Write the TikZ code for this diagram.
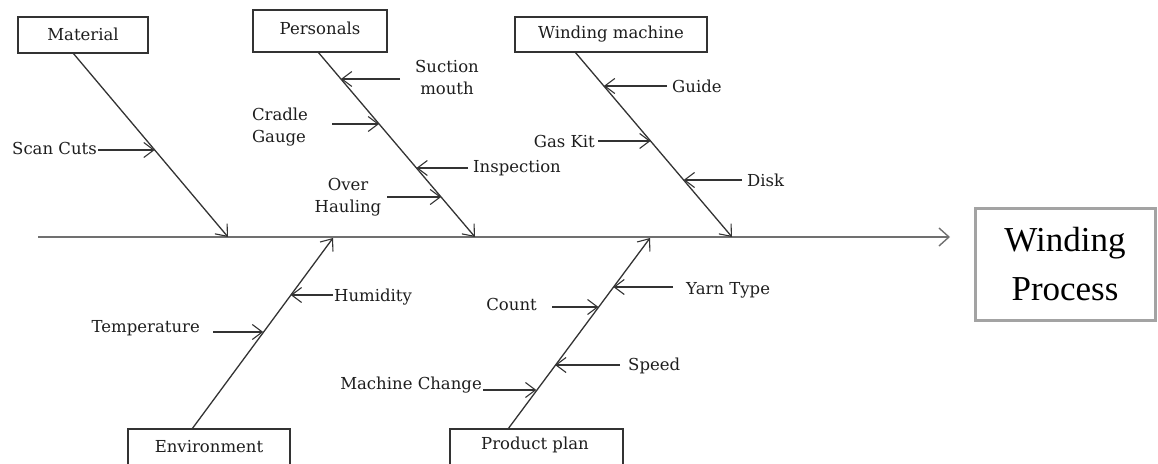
\documentclass[tikz,border=0pt]{standalone}
\usepackage{fontspec}
\setmainfont{DejaVu Serif}
\newfontfamily\bigfont{Liberation Serif}
\usetikzlibrary{arrows.meta,calc}
\definecolor{ink}{HTML}{333333}
\definecolor{txt}{HTML}{1E1E1E}
\definecolor{spinegray}{HTML}{707070}
\definecolor{framegray}{HTML}{A3A3A3}
\tikzset{
  lbl/.style={font=\fontsize{16.5}{22}\selectfont, text=txt, inner sep=0pt},
  boxnode/.style={draw=ink, line width=1.3pt, fill=white, inner sep=0pt},
  bone/.style={draw=ink, line width=1.3pt, -{Straight Barb[length=10pt,width=16pt,line width=1.1pt]}},
  subarrow/.style={draw=ink, line width=1.2pt, -{Straight Barb[length=10pt,width=15pt,line width=1.1pt]}},
  spine/.style={draw=spinegray, line width=2.2pt, -{Straight Barb[length=10pt,width=18pt,line width=1.4pt]}},
  resultbox/.style={draw=framegray, line width=3pt, fill=white, inner sep=0pt, align=center,
    font=\bigfont\fontsize{35}{49}\selectfont, text=black}
}
\begin{document}
\begin{tikzpicture}[x=1pt,y=-1pt]
\useasboundingbox (0,0) rectangle (1158,463);
\clip (0,0) rectangle (1158,463);

% ---- boxes
\node[boxnode, minimum width=130pt, minimum height=36pt] (mat) at (83,35) {};
\node[lbl] (matT) at (83,34) {Material};
\node[boxnode, minimum width=134pt, minimum height=42pt] (per) at (320,31) {};
\node[lbl] (perT) at (320,28) {Personals};
\node[boxnode, minimum width=192pt, minimum height=35pt] (wm) at (611,34.5) {};
\node[lbl] (wmT) at (611,34) {Winding machine};
\node[boxnode, minimum width=162pt, minimum height=60pt] (env) at (209,459) {};
\node[lbl] (envT) at (209,447) {Environment};
\node[boxnode, minimum width=173pt, minimum height=60pt] (pp) at (536.5,459) {};
\node[lbl] (ppT) at (535,445) {Product plan};
\node[resultbox, minimum width=180pt, minimum height=112pt] (res) at (1065,264) {Winding\\Process};

% ---- spine
\coordinate (sp0) at (38,237);
\coordinate (sp1) at (950,237);
\draw[spine] (sp0) -- (sp1);

% ---- bone end points
\coordinate (matA) at (73,53);   \coordinate (matB) at (228,237);
\coordinate (perA) at (318,52);  \coordinate (perB) at (475,237);
\coordinate (wmA)  at (575,52);  \coordinate (wmB)  at (732,237);
\coordinate (envA) at (192,429); \coordinate (envB) at (333,238);
\coordinate (ppA)  at (508,429); \coordinate (ppB)  at (650,238);

\draw[bone] (matA) -- (matB);
\draw[bone] (perA) -- (perB);
\draw[bone] (wmA) -- (wmB);
\draw[bone] (envA) -- (envB);
\draw[bone] (ppA) -- (ppB);

% ---- tips on bones
\coordinate (tScan) at ($(matA)!0.527!(matB)$);
\coordinate (tSuc)  at ($(perA)!0.146!(perB)$);
\coordinate (tCra)  at ($(perA)!0.389!(perB)$);
\coordinate (tIns)  at ($(perA)!0.627!(perB)$);
\coordinate (tOve)  at ($(perA)!0.784!(perB)$);
\coordinate (tGui)  at ($(wmA)!0.184!(wmB)$);
\coordinate (tGas)  at ($(wmA)!0.481!(wmB)$);
\coordinate (tDis)  at ($(wmA)!0.692!(wmB)$);
\coordinate (tHum)  at ($(envB)!0.30!(envA)$);
\coordinate (tTem)  at ($(envB)!0.495!(envA)$);
\coordinate (tYar)  at ($(ppB)!0.258!(ppA)$);
\coordinate (tCou)  at ($(ppB)!0.363!(ppA)$);
\coordinate (tSpe)  at ($(ppB)!0.668!(ppA)$);
\coordinate (tMac)  at ($(ppB)!0.80!(ppA)$);

% ---- labels
\node[lbl, anchor=east] (lScan) at (97,148) {Scan Cuts};
\node[lbl, align=center] (lSuc) at (447,77) {Suction\\mouth};
\node[lbl, align=left] (lCra) at (280,127) {Cradle\\Gauge};
\node[lbl, anchor=west] (lIns) at (473,168) {Inspection};
\node[lbl, align=center] (lOve) at (348,197) {Over\\Hauling};
\node[lbl, anchor=west] (lGui) at (672,86) {Guide};
\node[lbl, anchor=east] (lGas) at (595,141) {Gas Kit};
\node[lbl, anchor=west] (lDis) at (747,180) {Disk};
\node[lbl, anchor=west] (lHum) at (334,297) {Humidity};
\node[lbl, anchor=east] (lTem) at (200,328) {Temperature};
\node[lbl, anchor=west] (lYar) at (686,290) {Yarn Type};
\node[lbl, anchor=east] (lCou) at (537,304) {Count};
\node[lbl, anchor=west] (lSpe) at (628,366) {Speed};
\node[lbl, anchor=east] (lMac) at (482,385) {Machine Change};

% ---- arrow starts
\coordinate (sScan) at (98,150);
\coordinate (sSuc)  at (400,79);
\coordinate (sCra)  at (332,124);
\coordinate (sIns)  at (468,168);
\coordinate (sOve)  at (387,197);
\coordinate (sGui)  at (667,86);
\coordinate (sGas)  at (598,141);
\coordinate (sDis)  at (742,180);
\coordinate (sHum)  at (333,295);
\coordinate (sTem)  at (213,332);
\coordinate (sYar)  at (673,287);
\coordinate (sCou)  at (552,307);
\coordinate (sSpe)  at (620,365);
\coordinate (sMac)  at (483,390);

\foreach \n in {Scan,Suc,Cra,Ins,Ove,Gui,Gas,Dis,Hum,Tem,Yar,Cou,Spe,Mac}
  \draw[subarrow] (s\n) -- (s\n -| t\n);
\end{tikzpicture}
\end{document}
